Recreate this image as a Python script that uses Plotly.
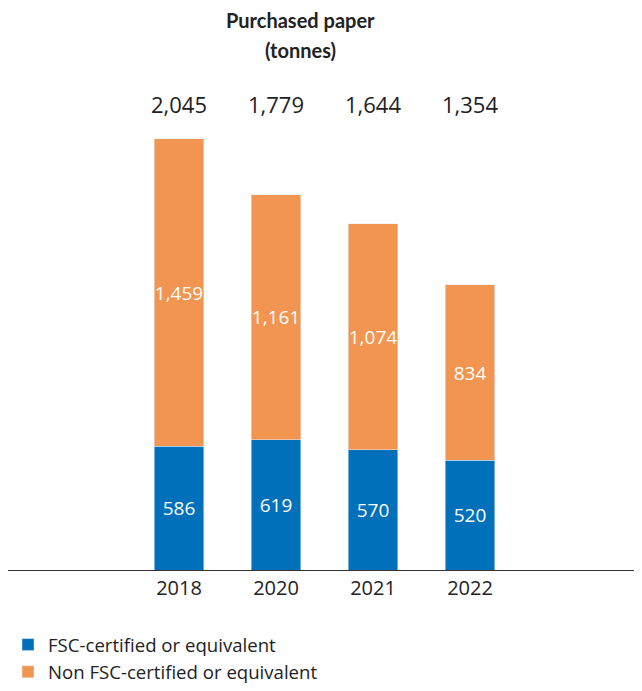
import plotly.graph_objects as go

years = ["2018", "2020", "2021", "2022"]
fsc = [586, 619, 570, 520]
non_fsc = [1459, 1161, 1074, 834]
totals = [2045, 1779, 1644, 1354]

blue = "#0070BA"
orange = "#F19550"
font = "Open Sans"
ink = "#222"

# the page adds an 8px body margin, so the figure is 8px smaller than the window
W, H = 634, 683

fig = go.Figure()
fig.add_trace(go.Bar(x=years, y=fsc, name="FSC-certified or equivalent",
                     marker_color=blue, width=0.515,
                     text=[f"{v:,}" for v in fsc], textposition="inside",
                     insidetextanchor="middle", textangle=0,
                     textfont=dict(color="white", size=19, family=font)))
fig.add_trace(go.Bar(x=years, y=non_fsc, name="Non FSC-certified or equivalent",
                     marker_color=orange, width=0.515,
                     text=[f"{v:,}" for v in non_fsc], textposition="inside",
                     insidetextanchor="middle", textangle=0,
                     textfont=dict(color="white", size=19, family=font)))

# totals above the bars (category index for x)
for i, t in enumerate(totals):
    fig.add_annotation(x=i, y=0.987, yref="paper", yanchor="middle", text=f"{t:,}",
                       showarrow=False, font=dict(size=22, color=ink, family=font))

# title, two lines
fig.add_annotation(x=0.4606, xref="paper", y=1.165, yref="paper",
                   text="<b>Purchased paper</b>", showarrow=False,
                   xanchor="center", yanchor="middle",
                   font=dict(size=20, color=ink, family="Lato"))
fig.add_annotation(x=0.4606, xref="paper", y=1.1017, yref="paper",
                   text="<b>(tonnes)</b>", showarrow=False,
                   xanchor="center", yanchor="middle",
                   font=dict(size=20, color=ink, family="Lato"))

fig.update_layout(
    width=W, height=H,
    barmode="stack",
    plot_bgcolor="white", paper_bgcolor="white",
    margin=dict(l=0, r=0, t=90, b=121),
    font=dict(family=font, color=ink),
    uniformtext=dict(minsize=19, mode="show"),
    xaxis=dict(range=[-1.763, 4.773], showline=True, linecolor="#333", linewidth=1,
               ticks="", tickfont=dict(size=20, color=ink), showgrid=False),
    yaxis=dict(range=[0, 2239.5], visible=False, showgrid=False),
    legend=dict(orientation="v", x=0, y=-0.2564, xanchor="left", yanchor="bottom",
                font=dict(size=18.6, color=ink), traceorder="normal"),
)
fig.write_html("out.html")
